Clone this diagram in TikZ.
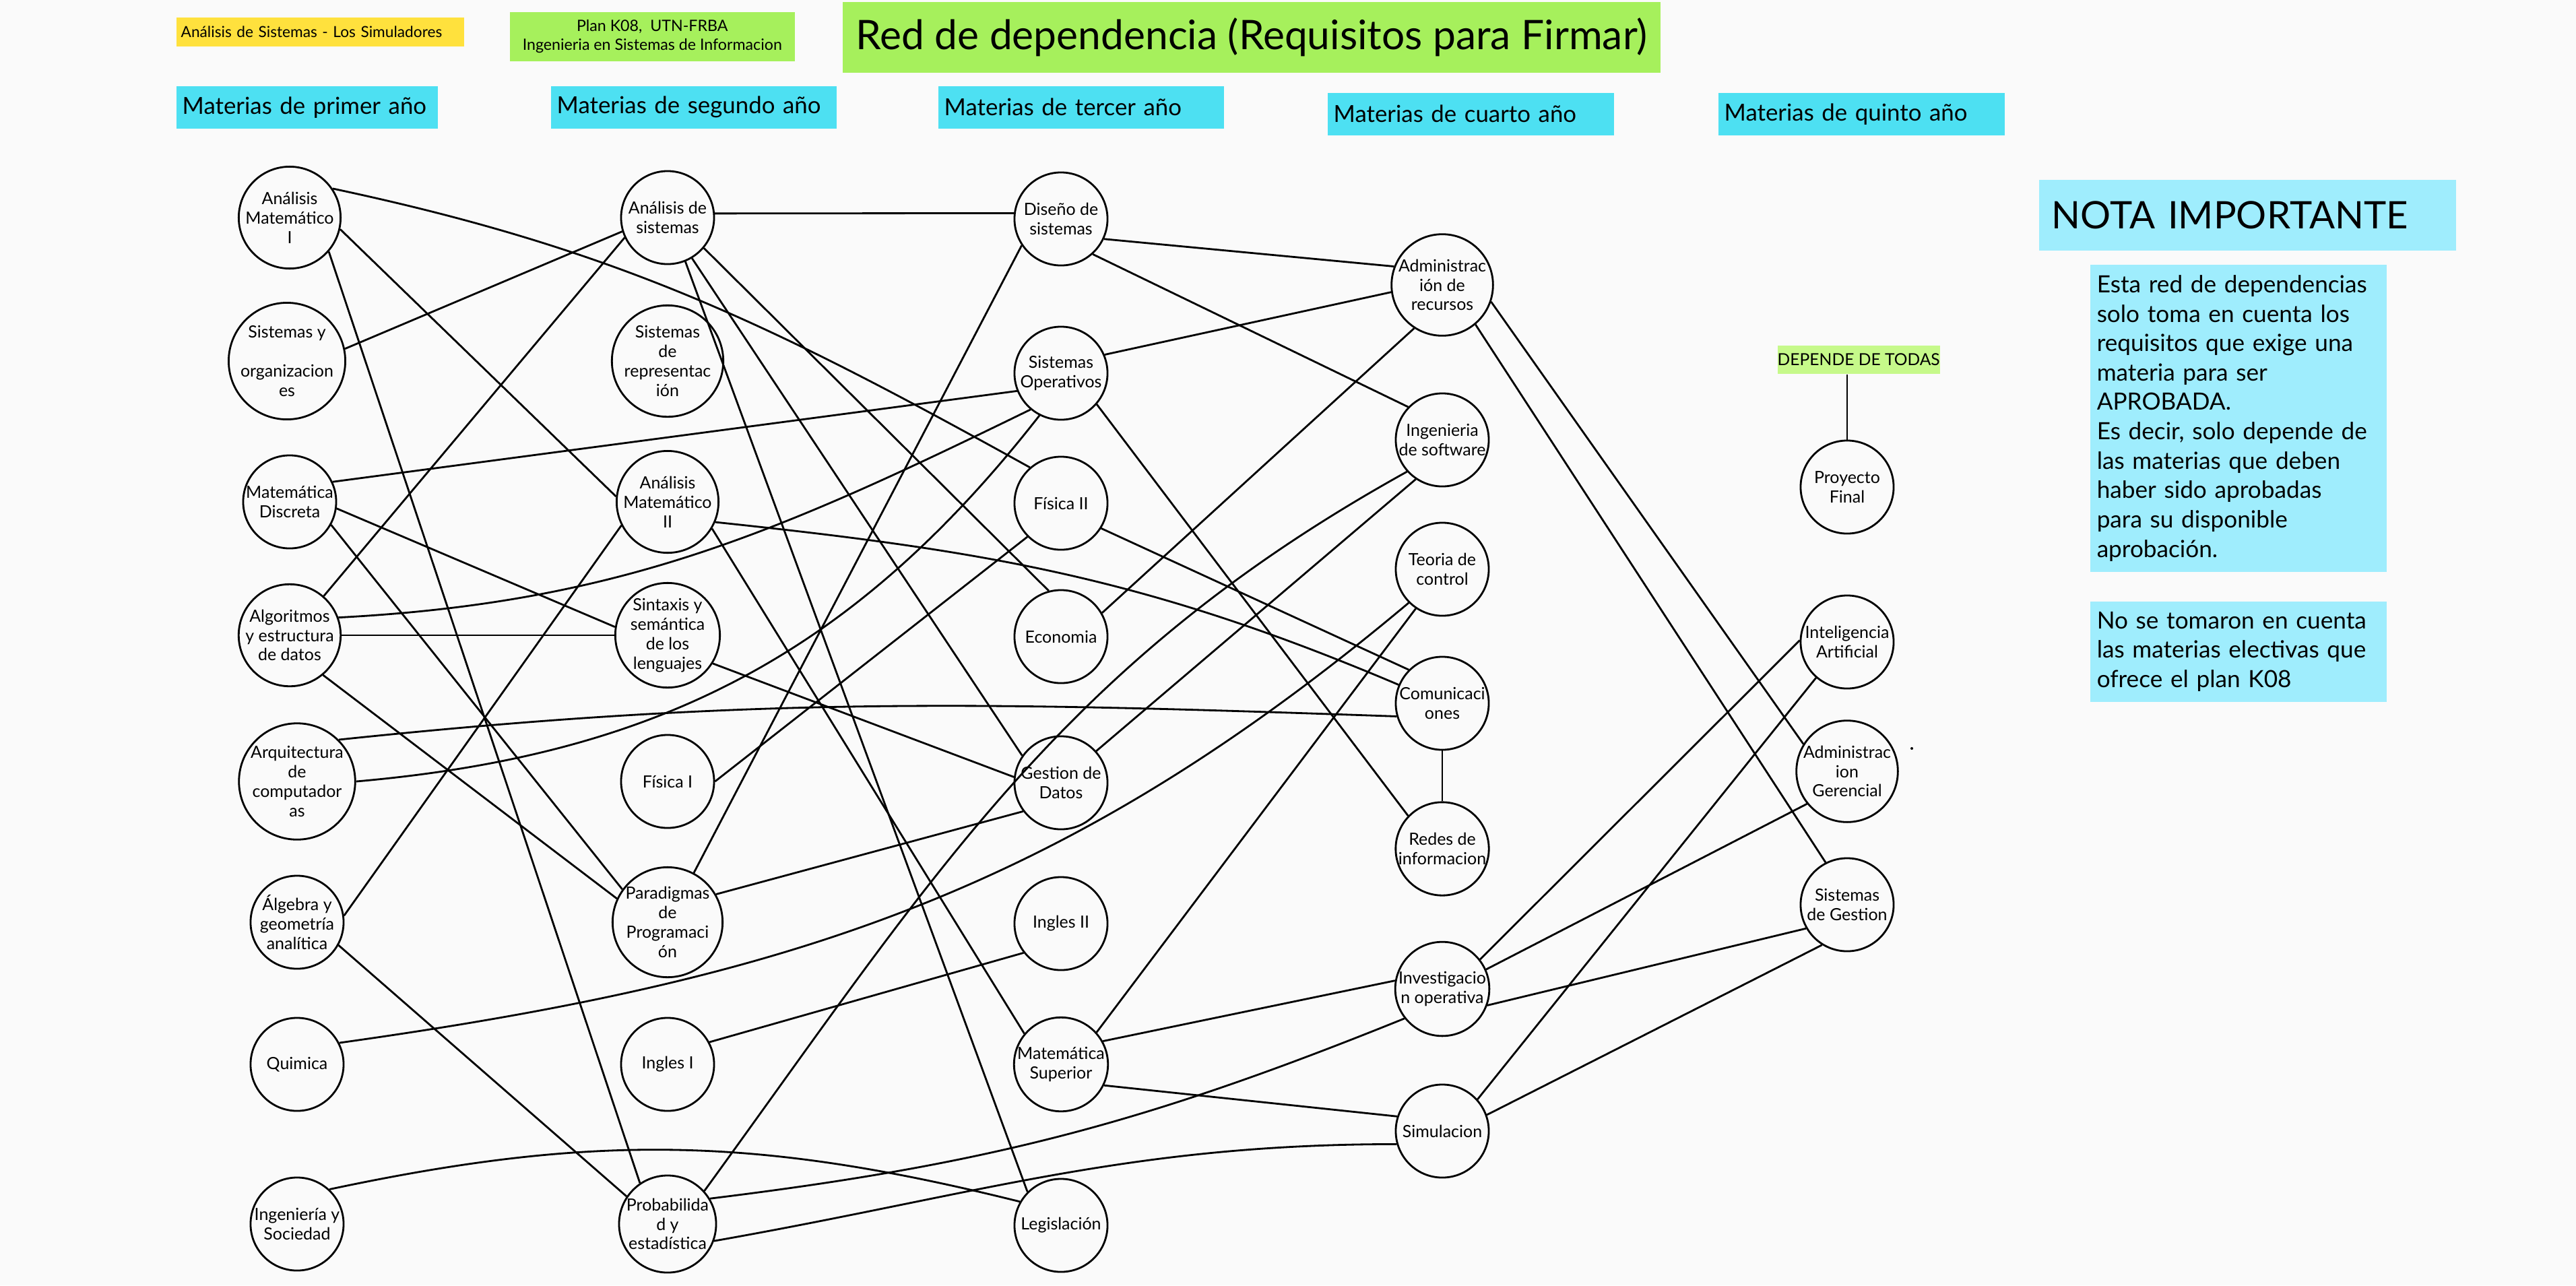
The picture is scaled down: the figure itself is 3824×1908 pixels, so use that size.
\documentclass[tikz,border=0pt]{standalone}
\usepackage{fontspec}
\setmainfont{Lato}
\definecolor{fondo}{HTML}{FAFAFA}
\definecolor{amarillo}{HTML}{FFE13D}
\definecolor{verde}{HTML}{A6F05C}
\definecolor{verdeclaro}{HTML}{C6F98A}
\definecolor{celeste}{HTML}{4DE0F2}
\definecolor{celesteclaro}{HTML}{9FEDFD}
\begin{document}
\begin{tikzpicture}[x=0.01cm, y=-0.01cm,
  materia/.style={circle, draw, line width=0.8pt, minimum size=1.38cm, inner sep=0pt, align=center, font=\fontsize{7.1}{8.2}\selectfont},
  rel/.style={line width=0.8pt},
  anio/.style={fill=celeste, anchor=north west, minimum height=0.63cm, inner xsep=0.09cm, align=left, font=\fontsize{9.9}{11}\selectfont},
  nota/.style={fill=celesteclaro, anchor=north west, inner xsep=0.1cm, align=left, font=\fontsize{10}{12.4}\selectfont}]

  \fill[fondo] (0,0) rectangle (3824,1908);
  \useasboundingbox (0,0) rectangle (3824,1908);

  % encabezados
  \node[fill=amarillo, anchor=north west, minimum height=0.43cm, inner xsep=0.07cm, text width=4.13cm, align=left, font=\fontsize{6.45}{7.5}\selectfont] (grupo) at (261,25) {Análisis de Sistemas - Los Simuladores};
  \node[fill=verde, anchor=north west, minimum width=4.23cm, minimum height=0.72cm, align=center, font=\fontsize{6.6}{8}\selectfont] (plan) at (756,17) {Plan K08,\ \ UTN-FRBA\\Ingenieria en Sistemas de Informacion};
  \node[fill=verde, anchor=north west, minimum width=12.14cm, minimum height=1.05cm, font=\fontsize{17.2}{20}\selectfont] (titulo) at (1250,2) {Red de dependencia (Requisitos para Firmar)};

  \node[anio, text width=3.70cm] (anio1) at (261,127) {Materias de primer año};
  \node[anio, text width=4.06cm] (anio2) at (817,127) {Materias de segundo año};
  \node[anio, text width=4.06cm] (anio3) at (1392,127) {Materias de tercer año};
  \node[anio, text width=4.07cm] (anio4) at (1970,137) {Materias de cuarto año};
  \node[anio, text width=4.07cm] (anio5) at (2550,137) {Materias de quinto año};

  % primer año
  \node[materia] (am1) at (430,323) {Análisis\\Matemático\\I};
  \node[materia] (syo) at (426,536) {Sistemas y\\[8.2pt]organizacion\\es};
  \node[materia] (md) at (430,745) {Matemática\\Discreta};
  \node[materia] (alg) at (430,943) {Algoritmos\\y estructura\\de datos};
  \node[materia] (arq) at (441,1160) {Arquitectura\\de\\computador\\as};
  \node[materia] (alg2) at (441,1369) {Álgebra y\\geometría\\analítica};
  \node[materia] (quim) at (441,1580) {Quimica};
  \node[materia] (iys) at (441,1817) {Ingeniería y\\Sociedad};

  % segundo año
  \node[materia] (ads) at (991,323) {Análisis de\\sistemas};
  \node[materia] (sdr) at (991,536) {Sistemas\\de\\representac\\ión};
  \node[materia] (am2) at (991,745) {Análisis\\Matemático\\II};
  \node[materia] (sys) at (991,943) {Sintaxis y\\semántica\\de los\\lenguajes};
  \node[materia] (fis1) at (991,1160) {Física I};
  \node[materia] (par) at (991,1369) {Paradigmas\\de\\Programaci\\ón};
  \node[materia] (ing1) at (991,1580) {Ingles I};
  \node[materia] (prob) at (991,1817) {Probabilida\\d y\\estadística};

  % tercer año
  \node[materia] (dis) at (1575,325) {Diseño de\\sistemas};
  \node[materia] (so) at (1575,554) {Sistemas\\Operativos};
  \node[materia] (fis2) at (1575,747) {Física II};
  \node[materia] (eco) at (1575,945) {Economia};
  \node[materia] (gdd) at (1575,1162) {Gestion de\\Datos};
  \node[materia] (ing2) at (1575,1371) {Ingles II};
  \node[materia] (msup) at (1575,1580) {Matemática\\Superior};
  \node[materia] (leg) at (1575,1819) {Legislación};

  % cuarto año
  \node[materia] (adr) at (2141,423) {Administrac\\ión de\\recursos};
  \node[materia] (isw) at (2141,653) {Ingenieria\\de software};
  \node[materia] (tdc) at (2141,845) {Teoria de\\control};
  \node[materia] (com) at (2141,1044) {Comunicaci\\ones};
  \node[materia] (redes) at (2141,1260) {Redes de\\informacion};
  \node[materia] (io) at (2141,1468) {Investigacio\\n operativa};
  \node[materia] (sim) at (2141,1679) {Simulacion};

  % quinto año
  \node[fill=verdeclaro, anchor=north west, minimum width=2.39cm, minimum height=0.425cm, inner sep=0pt, font=\fontsize{7}{8}\selectfont] (todas) at (2638,512) {DEPENDE DE TODAS};
  \node[materia] (pf) at (2742,723) {Proyecto\\Final};
  \node[materia] (ia) at (2742,953) {Inteligencia\\Artificial};
  \node[materia] (ag) at (2742,1145) {Administrac\\ion\\Gerencial};
  \node[materia] (sg) at (2742,1343) {Sistemas\\de Gestion};
  \fill (2838,1111) circle (2);

  % notas
  \node[nota, minimum width=6.19cm, minimum height=1.05cm, inner xsep=0.19cm, text width=5.81cm, font=\fontsize{16}{19}\selectfont] (nota) at (3026,266) {NOTA IMPORTANTE};
  \node[nota, minimum height=4.56cm, text width=4.2cm] (nota1) at (3102,392) {Esta red de dependencias\\solo toma en cuenta los\\requisitos que exige una\\materia para ser\\APROBADA.\\Es decir, solo depende de\\las materias que deben\\haber sido aprobadas\\para su disponible\\aprobación.};
  \node[nota, minimum height=1.49cm, text width=4.2cm] (nota2) at (3102,892) {No se tomaron en cuenta\\las materias electivas que\\ofrece el plan K08};

  % primero -> segundo
  \draw[rel] (syo.12) -- (ads.197);
  \draw[rel] (alg.49) -- (ads.205);
  \draw[rel] (am1.-13) -- (am2.174);
  \draw[rel] (alg2.8) -- (am2.207);
  \draw[rel] (md.-8) -- (sys.171);
  \draw[rel] (alg.0) -- (sys.180);
  \draw[rel] (md.-29) -- (par.144);
  \draw[rel] (alg.-50) -- (par.155);
  \draw[rel] (am1.-41) -- (prob.124);
  \draw[rel] (alg2.-29) -- (prob.146);

  % -> tercero
  \draw[rel] (ads.5) -- (dis.173);
  \draw[rel] (par.62) -- (dis.214);
  \draw[rel] (md.25) -- (so.202);
  \draw[rel] (alg.20) to[out=3, in=206] (so.230); %% alg->so
  \draw[rel] (arq.0) to[out=5, in=232] (so.243); %% arq->so
  \draw[rel] (am1.34) to[out=-12, in=151] (fis2.131); %% am1->fis2
  \draw[rel] (fis1.0) -- (fis2.225);
  \draw[rel] (ads.-40) -- (eco.105);
  \draw[rel] (ads.-59) -- (gdd.145);
  \draw[rel] (sys.-32) -- (gdd.173);
  \draw[rel] (par.30) -- (gdd.217);
  \draw[rel] (ing1.28) -- (ing2.218);
  \draw[rel] (am2.-31) -- (msup.140);
  \draw[rel] (ads.-68) -- (leg.135);
  \draw[rel] (iys.47) to[out=12, in=166] (leg.150); %% iys->leg

  % -> cuarto
  \draw[rel] (dis.-25) -- (adr.159);
  \draw[rel] (so.23) -- (adr.188);
  \draw[rel] (eco.30) -- (adr.237);
  \draw[rel] (prob.42) to[out=54, in=209] (isw.222); %% prob->isw
  \draw[rel] (dis.-48) -- (isw.136);
  \draw[rel] (gdd.42) -- (isw.236);
  \draw[rel] (quim.27) to[out=8, in=220] (tdc.225); %% quim->tdc
  \draw[rel] (msup.42) -- (tdc.236);
  \draw[rel] (arq.45) to[out=6, in=178] (com.196); %% arq->com
  \draw[rel] (am2.-23) to[out=-6, in=157] (com.157); %% am2->com
  \draw[rel] (fis2.-32) -- (com.135);
  \draw[rel] (so.-41) -- (redes.136);
  \draw[rel] (com.south) -- (redes.north);
  \draw[rel] (prob.31) to[out=7, in=202] (io.218); %% prob->io
  \draw[rel] (msup.29) -- (io.170);
  \draw[rel] (prob.-20) to[out=10, in=180] (sim.196); %% prob->sim
  \draw[rel] (msup.-26) -- (sim.162);

  % -> quinto
  \draw[rel] (io.38) -- (ia.178);
  \draw[rel] (sim.42) -- (ia.229);
  \draw[rel] (adr.-19) -- (ag.148);
  \draw[rel] (io.24) -- (ag.219);
  \draw[rel] (adr.-50) -- (sg.117);
  \draw[rel] (io.-20) -- (sg.210);
  \draw[rel] (sim.20) -- (sg.238);
  \draw[rel] (pf.north |- todas.south) -- (pf.north);
\end{tikzpicture}
\end{document}
